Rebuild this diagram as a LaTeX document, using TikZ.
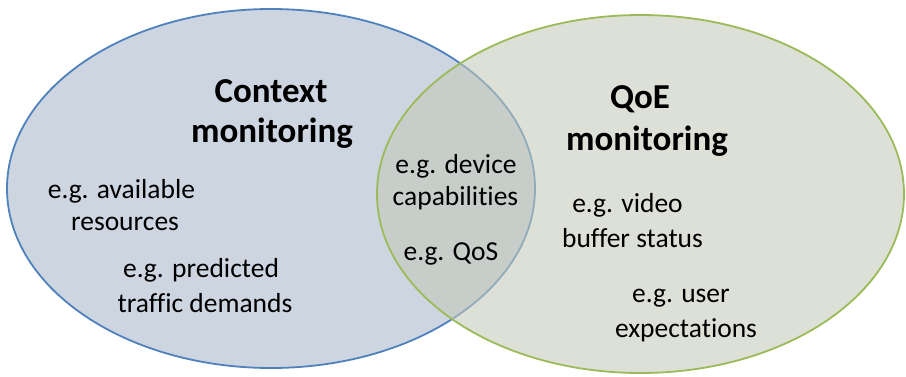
\documentclass[tikz,border=0pt]{standalone}
\usepackage{fontspec}
\setmainfont{Carlito}[Ligatures=CommonOff]
\definecolor{leftfill}{RGB}{205,213,225}
\definecolor{leftline}{RGB}{79,129,189}
\definecolor{rightfill}{RGB}{196,202,184}
\definecolor{rightline}{RGB}{155,187,89}
\begin{document}
\begin{tikzpicture}[x=1pt,y=-1pt,
  title/.style={inner sep=0pt,anchor=base,font=\fontsize{35}{42}\selectfont\bfseries},
  item/.style={inner sep=0pt,anchor=base,font=\fontsize{27.5}{33}\selectfont}]
\useasboundingbox (0,0) rectangle (906,376);
% ellipses
\path[fill=leftfill,draw=leftline,line width=1.8pt] (271,188.5) ellipse [x radius=264,y radius=179.5];
\path[fill=rightfill,fill opacity=0.58] (640.5,194) ellipse [x radius=263.5,y radius=179];
\path[draw=rightline,line width=1.8pt] (640.5,194) ellipse [x radius=263.5,y radius=179];
% titles
\node[title] (ctx) at (271,102) {Context};
\node[title] (mon) at (272,142) {monitoring};
\node[title] (qoe) at (640,108) {QoE};
\node[title] (mon2) at (647,150) {monitoring};
% items
\node[item] (av1) at (121.5,198) {e.g. available};
\node[item] (av2) at (125,230) {resources};
\node[item] (pr1) at (201,277) {e.g. predicted};
\node[item] (pr2) at (205,312) {traffic demands};
\node[item] (dv1) at (456,173) {e.g. device};
\node[item] (dv2) at (455.5,205) {capabilities};
\node[item] (qos) at (451,260) {e.g. QoS};
\node[item] (vd1) at (627.5,212) {e.g. video};
\node[item] (vd2) at (632.5,247) {buffer status};
\node[item] (us1) at (681,302) {e.g. user};
\node[item] (us2) at (686,337) {expectations};
\end{tikzpicture}
\end{document}
